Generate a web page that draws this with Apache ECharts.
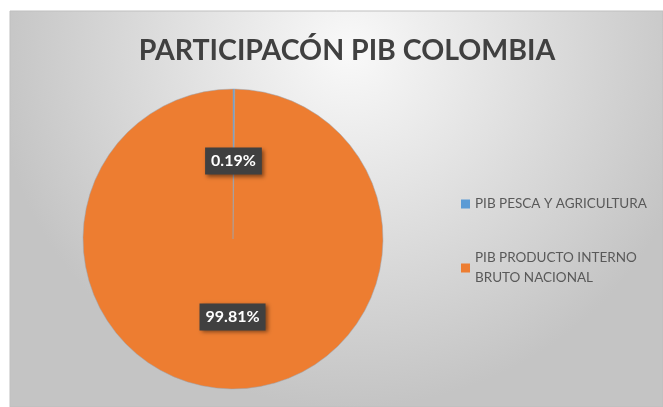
<!DOCTYPE html>
<html>
<head>
<meta charset="utf-8">
<script src="https://cdn.jsdelivr.net/npm/echarts@6/dist/echarts.min.js"></script>
<style>html,body{margin:0;padding:0;background:#fff;}#c{width:663px;height:407px;}</style>
</head>
<body>
<div id="c"></div>
<script>
var titleText = 'PARTICIPACÓN PIB COLOMBIA';
var categories = ['PIB PESCA Y AGRICULTURA', 'PIB PRODUCTO INTERNO BRUTO NACIONAL'];
var legendLabels = ['PIB PESCA Y AGRICULTURA', 'PIB PRODUCTO INTERNO\nBRUTO NACIONAL'];
var values = [0.19, 99.81];
var colors = ['#5B9BD5', '#ED7D31'];

var chart = echarts.init(document.getElementById('c'), null, {renderer: 'canvas'});
var data = categories.map(function (n, i) { return {name: n, value: values[i], itemStyle: {color: colors[i]}}; });

chart.setOption({
  backgroundColor: '#ffffff',
  animation: false,
  graphic: [{
    type: 'rect', z: -10, silent: true,
    shape: {x: 10, y: 11, width: 653, height: 396},
    style: {
      fill: new echarts.graphic.RadialGradient(0.52, 0.1, 0.9, [
        {offset: 0, color: '#f9f9f9'},
        {offset: 0.4, color: '#e4e4e4'},
        {offset: 1, color: '#c4c4c4'}
      ]),
      stroke: '#bfbfbf', lineWidth: 1
    }
  }],
  title: {
    text: titleText,
    left: 342,
    textAlign: 'center',
    top: 31,
    textStyle: {fontFamily: 'Lato', fontWeight: 'bold', fontSize: 28.5, color: '#404040'}
  },
  legend: [{
    orient: 'vertical',
    left: 456,
    top: 192,
    itemWidth: 9, itemHeight: 9,
    itemGap: 4,
    icon: 'rect',
    itemStyle: {borderWidth: 0},
    data: [categories[0]],
    formatter: function () { return legendLabels[0]; },
    textStyle: {fontFamily: 'Lato', fontSize: 13.5, color: '#595959'}
  }, {
    orient: 'vertical',
    left: 456,
    top: 233,
    itemWidth: 9, itemHeight: 9,
    itemGap: 4,
    icon: 'rect',
    itemStyle: {borderWidth: 0},
    data: [categories[1]],
    formatter: function () { return legendLabels[1]; },
    textStyle: {fontFamily: 'Lato', fontSize: 13.5, color: '#595959', lineHeight: 20, padding: [20, 0, 0, 0]}
  }],
  series: [{
    type: 'pie',
    center: [233, 239],
    radius: [0, 150],
    startAngle: 90,
    clockwise: true,
    data: data,
    itemStyle: {borderColor: '#9aa6b4', borderWidth: 0.5},
    label: {
      show: true,
      position: 'inside',
      formatter: function (p) { return p.value.toFixed(2) + '%'; },
      color: '#ffffff',
      fontFamily: 'Lato',
      fontWeight: 'bold',
      fontSize: 16,
      backgroundColor: '#404040',
      padding: [6, 6, 5, 6],
      shadowColor: 'rgba(0,0,0,0.45)',
      shadowBlur: 4,
      shadowOffsetX: 2,
      shadowOffsetY: 2
    },
    labelLine: {show: false},
    emphasis: {disabled: true}
  }]
});
</script>
</body>
</html>
